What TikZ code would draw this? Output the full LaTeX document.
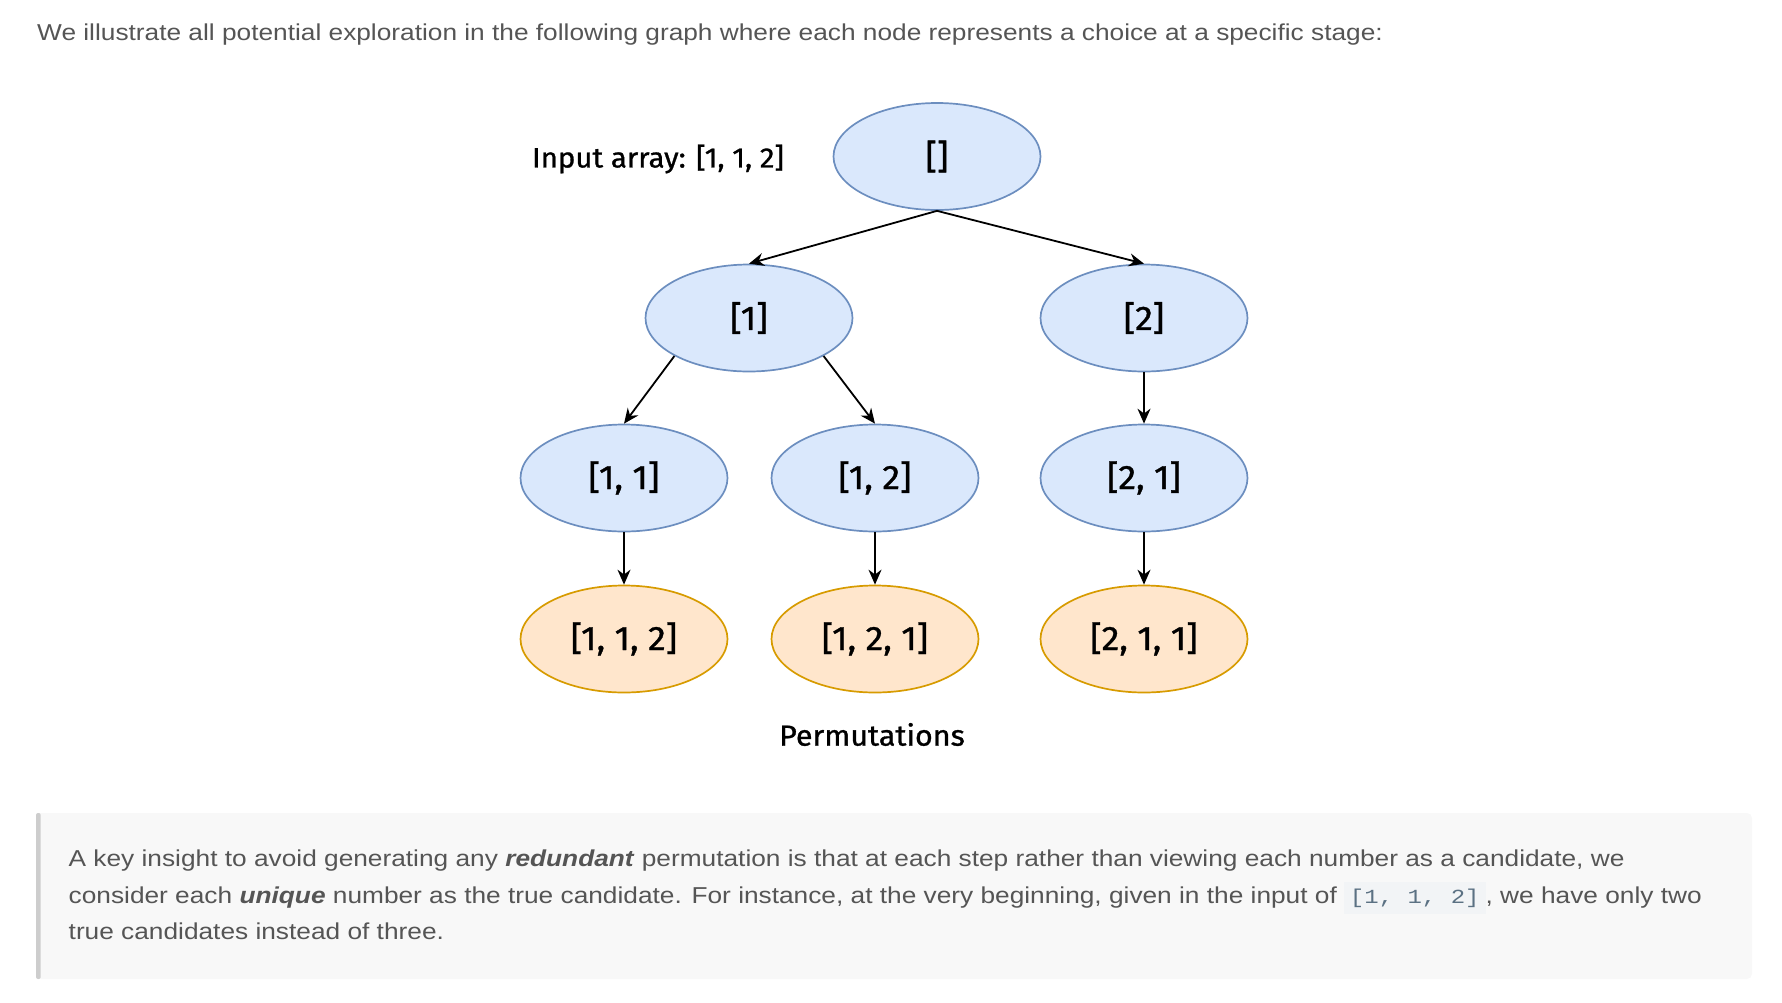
\documentclass[tikz,border=0pt]{standalone}
\usepackage{fontspec}
\setmainfont{Liberation Sans}[FakeStretch=1.142]
\newfontfamily\diafont{Fira Sans}[FakeStretch=1.05,FakeBold=1]
\newfontfamily\codefont{Liberation Mono}[FakeStretch=1.2]
\usetikzlibrary{arrows.meta,shapes.geometric}
\definecolor{txtgray}{HTML}{555555}
\definecolor{bluefill}{HTML}{DAE8FC}
\definecolor{bluedraw}{HTML}{6C8EBF}
\definecolor{orangefill}{HTML}{FFE6CC}
\definecolor{orangedraw}{HTML}{D79B00}
\definecolor{quotebg}{HTML}{F8F8F8}
\definecolor{quotebar}{HTML}{CDCDCD}
\definecolor{codebg}{HTML}{F2F4F6}
\definecolor{codetxt}{HTML}{5B7183}
\tikzset{
  state/.style={ellipse, draw=bluedraw, fill=bluefill, line width=1.7pt,
    minimum width=207pt, minimum height=107pt, inner sep=0pt,
    font=\diafont\fontsize{34}{37}\selectfont},
  final/.style={state, draw=orangedraw, fill=orangefill},
  edge/.style={-{Stealth[length=15pt,width=13pt]}, line width=1.8pt, black},
  para/.style={anchor=base west, inner sep=0pt, text=txtgray,
    font=\fontsize{23}{26}\selectfont},
  lbl/.style={inner sep=0pt, text=black}
}
\begin{document}
\begin{tikzpicture}[x=1pt,y=-1pt]
\useasboundingbox (0,0) rectangle (1782,1002);
% header
\node[para] (hdr) at (37,40.7) {We illustrate all potential exploration in the following graph where each node represents a choice at a specific stage:};
% diagram
\node[state] (root) at (937,156.5) {[]};
\node[state] (n1) at (749,318) {[1]};
\node[state] (n2) at (1144,318) {[2]};
\node[state] (n11) at (624,478) {[1, 1]};
\node[state] (n12) at (875,478) {[1, 2]};
\node[state] (n21) at (1144,478) {[2, 1]};
\node[final] (n112) at (624,639) {[1, 1, 2]};
\node[final] (n121) at (875,639) {[1, 2, 1]};
\node[final] (n211) at (1144,639) {[2, 1, 1]};
\node[lbl, font=\diafont\fontsize{28}{31}\selectfont] (inp) at (658,159) {Input array: [1, 1, 2]};
\node[lbl, font=\diafont\fontsize{29}{32}\selectfont] (perm) at (872,734.5) {Permutations};
\draw[edge] (root.south) -- (n1.north);
\draw[edge] (root.south) -- (n2.north);
\draw[edge] (n1.-153) -- (n11.north);
\draw[edge] (n1.-27) -- (n12.north);
\draw[edge] (n2.south) -- (n21.north);
\draw[edge] (n11.south) -- (n112.north);
\draw[edge] (n12.south) -- (n121.north);
\draw[edge] (n21.south) -- (n211.north);
% quote box
\fill[quotebg, rounded corners=5pt] (36,813) rectangle (1752,979);
\fill[quotebar, rounded corners=2pt] (36,813) rectangle (40.7,979);
\node[para] (q1) at (68.5,866.7) {A key insight to avoid generating any \textbf{\textit{redundant}} permutation is that at each step rather than viewing each number as a candidate, we};
\node[para] (q2) at (68.5,903) {consider each \textbf{\textit{unique}} number as the true candidate. For instance, at the very beginning, given in the input of\hspace{7pt}\tikz[baseline=(c.base)]\node[fill=codebg,inner xsep=6pt,inner ysep=7pt,text=codetxt,font=\codefont\fontsize{20}{24}\selectfont](c){[1, 1, 2]};, we have only two};
\node[para] (q3) at (68.5,939.5) {true candidates instead of three.};
\end{tikzpicture}
\end{document}
